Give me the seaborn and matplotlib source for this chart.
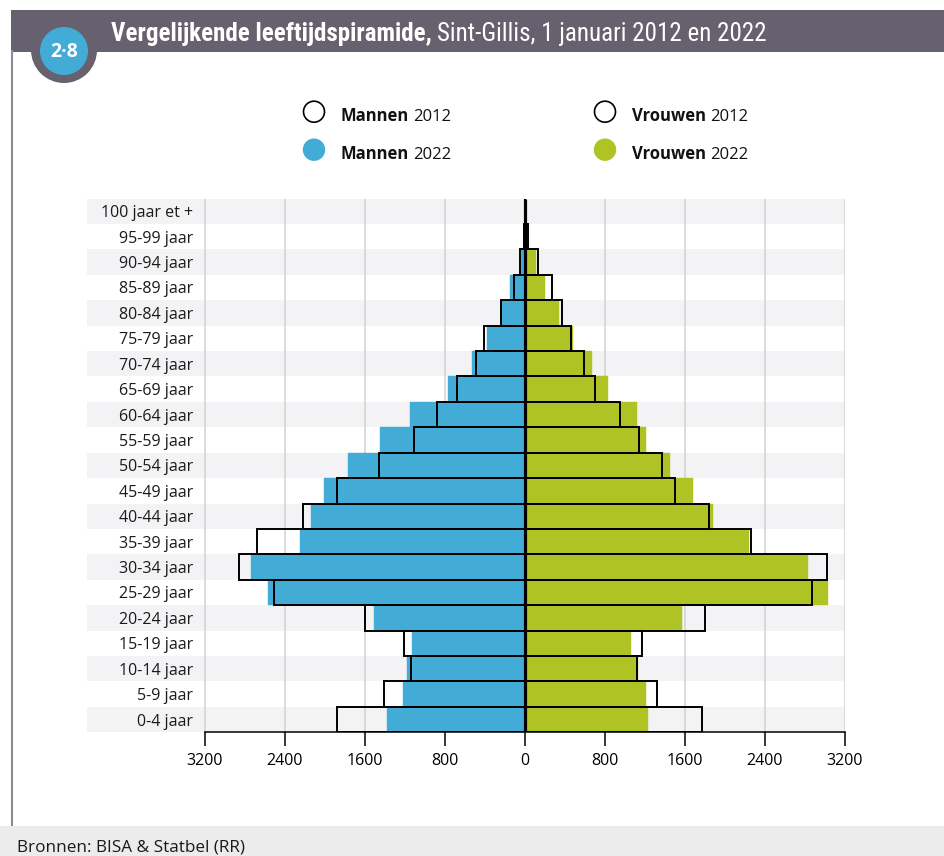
import numpy as np
import pandas as pd
import matplotlib
matplotlib.use("Agg")
import matplotlib.pyplot as plt
import seaborn as sns
from matplotlib.patches import Rectangle, Circle
from matplotlib import font_manager as fm

# ---------------- data ----------------
categories = ["100 jaar et +", "95-99 jaar", "90-94 jaar", "85-89 jaar", "80-84 jaar",
              "75-79 jaar", "70-74 jaar", "65-69 jaar", "60-64 jaar", "55-59 jaar",
              "50-54 jaar", "45-49 jaar", "40-44 jaar", "35-39 jaar", "30-34 jaar",
              "25-29 jaar", "20-24 jaar", "15-19 jaar", "10-14 jaar", "5-9 jaar", "0-4 jaar"]
men_2012 = [2, 10, 45, 110, 235, 410, 487, 677, 883, 1113, 1460, 1877, 2220, 2680,
            2860, 2513, 1603, 1213, 1143, 1413, 1877]
men_2022 = [2, 12, 35, 150, 230, 380, 527, 770, 1150, 1450, 1770, 2010, 2140, 2250,
            2740, 2570, 1510, 1130, 1177, 1220, 1380]
women_2012 = [3, 33, 127, 273, 370, 463, 587, 697, 953, 1140, 1367, 1497, 1840, 2263,
              3020, 2870, 1800, 1173, 1120, 1320, 1767]
women_2022 = [3, 23, 110, 197, 340, 483, 667, 827, 1117, 1207, 1447, 1677, 1877, 2237,
              2827, 3027, 1570, 1060, 1133, 1210, 1230]
xticks = [-3200, -2400, -1600, -800, 0, 800, 1600, 2400, 3200]
xtick_labels = ["3200", "2400", "1600", "800", "0", "800", "1600", "2400", "3200"]

title_bold = "Vergelijkende leeftijdspiramide,"
title_regular = "Sint-Gillis, 1 januari 2012 en 2022"
badge = "2\u00b78"
source = "Bronnen: BISA & Statbel (RR)"

# ---------------- style ----------------
BLUE = "#43acd6"
GREEN = "#afc424"
HEAD = "#67616f"
STRIPE = "#f3f3f5"
GRID = "#d2d2d2"


def has_font(name):
    try:
        fm.findfont(fm.FontProperties(family=name), fallback_to_default=False)
        return True
    except Exception:
        return False


MAIN = "Open Sans" if has_font("Open Sans") else "DejaVu Sans"

# look for a condensed / narrow face for the title
COND, COND_STRETCH = MAIN, "normal"
for pref in ["Liberation Sans Narrow", "Roboto Condensed", "Open Sans Condensed",
             "DejaVu Sans Condensed", "Noto Sans Condensed"]:
    if has_font(pref):
        COND = pref
        break
else:
    cands = [f for f in fm.fontManager.ttflist
             if ("Narrow" in f.name or "Condensed" in f.name or
                 str(f.stretch) in ("condensed", "semi-condensed", "extra-condensed"))]
    if cands:
        f0 = cands[0]
        COND = f0.name
        COND_STRETCH = f0.stretch if isinstance(f0.stretch, str) else "condensed"

sns.set_theme(style="white")
plt.rcParams["font.family"] = [MAIN, "DejaVu Sans"]

W, H = 945, 856
fig = plt.figure(figsize=(W / 100, H / 100), dpi=100)
fig.patch.set_facecolor("white")

top_px, bot_px, left_px, right_px = 198.5, 732.3, 87, 845
ax = fig.add_axes([left_px / W, 1 - bot_px / H, (right_px - left_px) / W, (bot_px - top_px) / H])
ax.set_facecolor("none")

n = len(categories)
for i in range(0, n, 2):
    ax.axhspan(i - 0.5, i + 0.5, color=STRIPE, lw=0, zorder=0)
for v in xticks:
    if v != 0:
        ax.vlines(v, -0.5, n - 0.5, color=GRID, lw=1.1, zorder=1)

df = pd.DataFrame({
    "cat": categories,
    "m12": -np.array(men_2012), "m22": -np.array(men_2022),
    "w12": np.array(women_2012), "w22": np.array(women_2022),
})

sns.barplot(data=df, x="m22", y="cat", order=categories, color=BLUE, saturation=1,
            width=1.0, errorbar=None, edgecolor=BLUE, linewidth=0.3, zorder=2, ax=ax)
sns.barplot(data=df, x="w22", y="cat", order=categories, color=GREEN, saturation=1,
            width=1.0, errorbar=None, edgecolor=GREEN, linewidth=0.3, zorder=2, ax=ax)
sns.barplot(data=df, x="m12", y="cat", order=categories, color="black", fill=False,
            width=1.0, errorbar=None, linewidth=1.4, zorder=3, ax=ax)
sns.barplot(data=df, x="w12", y="cat", order=categories, color="black", fill=False,
            width=1.0, errorbar=None, linewidth=1.4, zorder=3, ax=ax)

ax.vlines(0, -0.5, n - 0.5, color="black", lw=2.3, zorder=4)

ax.set_ylim(n - 0.5, -0.5)
ax.set_xlim((left_px - 525) * 10, 3200)
ax.set_xlabel("")
ax.set_ylabel("")
ax.set_xticks(xticks)
ax.set_xticklabels(xtick_labels)
ax.tick_params(axis="x", length=10, width=1.1, pad=5, labelsize=11.5, colors="black",
               bottom=True, direction="out")
ax.tick_params(axis="y", length=0, pad=-(193 - left_px) * 0.72, labelsize=11.5,
               colors="#1a1a1a")
for lab in ax.get_yticklabels():
    lab.set_horizontalalignment("right")
for s in ["left", "top", "right"]:
    ax.spines[s].set_visible(False)
ax.spines["bottom"].set_bounds(-3200, 3200)
ax.spines["bottom"].set_linewidth(1.1)
ax.spines["bottom"].set_color("black")
ax.grid(False)

# ---------------- overlay (pixel coordinates) ----------------
ov = fig.add_axes([0, 0, 1, 1], zorder=5)
ov.set_xlim(0, W)
ov.set_ylim(H, 0)
ov.axis("off")

ov.add_patch(Rectangle((11, 10), W - 11, 42, color=HEAD, lw=0))
ov.add_patch(Circle((64, 50), 33, color=HEAD, lw=0))
ov.add_patch(Circle((64, 51), 24, color=BLUE, lw=0))
ov.text(64, 52, badge, color="white", fontsize=14, fontweight="bold",
        ha="center", va="center", family=[MAIN, "DejaVu Sans"])
ov.plot([12, 12], [50, 826], color="#8f8b96", lw=1.5, solid_capstyle="butt")

ov.add_patch(Rectangle((0, 826), W, 30, color="#ececec", lw=0))
ov.text(17, 851, source, fontsize=12.3, color="#1a1a1a", ha="left", va="baseline")

renderer = fig.canvas.get_renderer()


def two_part(x, y, bold, regular, size, family, color, gap, stretch="normal"):
    t1 = ov.text(x, y, bold, fontsize=size, fontweight="bold", family=family,
                 color=color, ha="left", va="baseline", fontstretch=stretch)
    w1 = t1.get_window_extent(renderer).width
    t2 = ov.text(x + w1 + gap, y, regular, fontsize=size, family=family,
                 color=color, ha="left", va="baseline", fontstretch=stretch)
    w2 = t2.get_window_extent(renderer).width
    return t1, t2, w1 + gap + w2


# title: fit width 111 -> 798 (with a cap on the size)
fam_t = [COND, "DejaVu Sans"]
size = 15.0
t1, t2, tot = two_part(111, 40, title_bold, title_regular, size, fam_t, "white",
                       size * 0.3, COND_STRETCH)
t1.remove()
t2.remove()
size = min(size * 687 / tot, 18.0)
two_part(111, 40.5, title_bold, title_regular, size, fam_t, "white", size * 0.3, COND_STRETCH)

# legend
LEG = [(314, 111.7, "Mannen", "2012", None),
       (314, 149.7, "Mannen", "2022", BLUE),
       (605, 111.7, "Vrouwen", "2012", None),
       (605, 149.7, "Vrouwen", "2022", GREEN)]
for cx, cy, b, r, col in LEG:
    if col is None:
        ov.add_patch(Circle((cx, cy), 10.5, facecolor="white", edgecolor="black", lw=1.2))
    else:
        ov.add_patch(Circle((cx, cy), 11.2, color=col, lw=0))
    two_part(cx + 27, cy + 9, b, r, 12, [MAIN, "DejaVu Sans"], "#111111", 4)

fig.savefig("out.png", dpi=100, facecolor="white")
